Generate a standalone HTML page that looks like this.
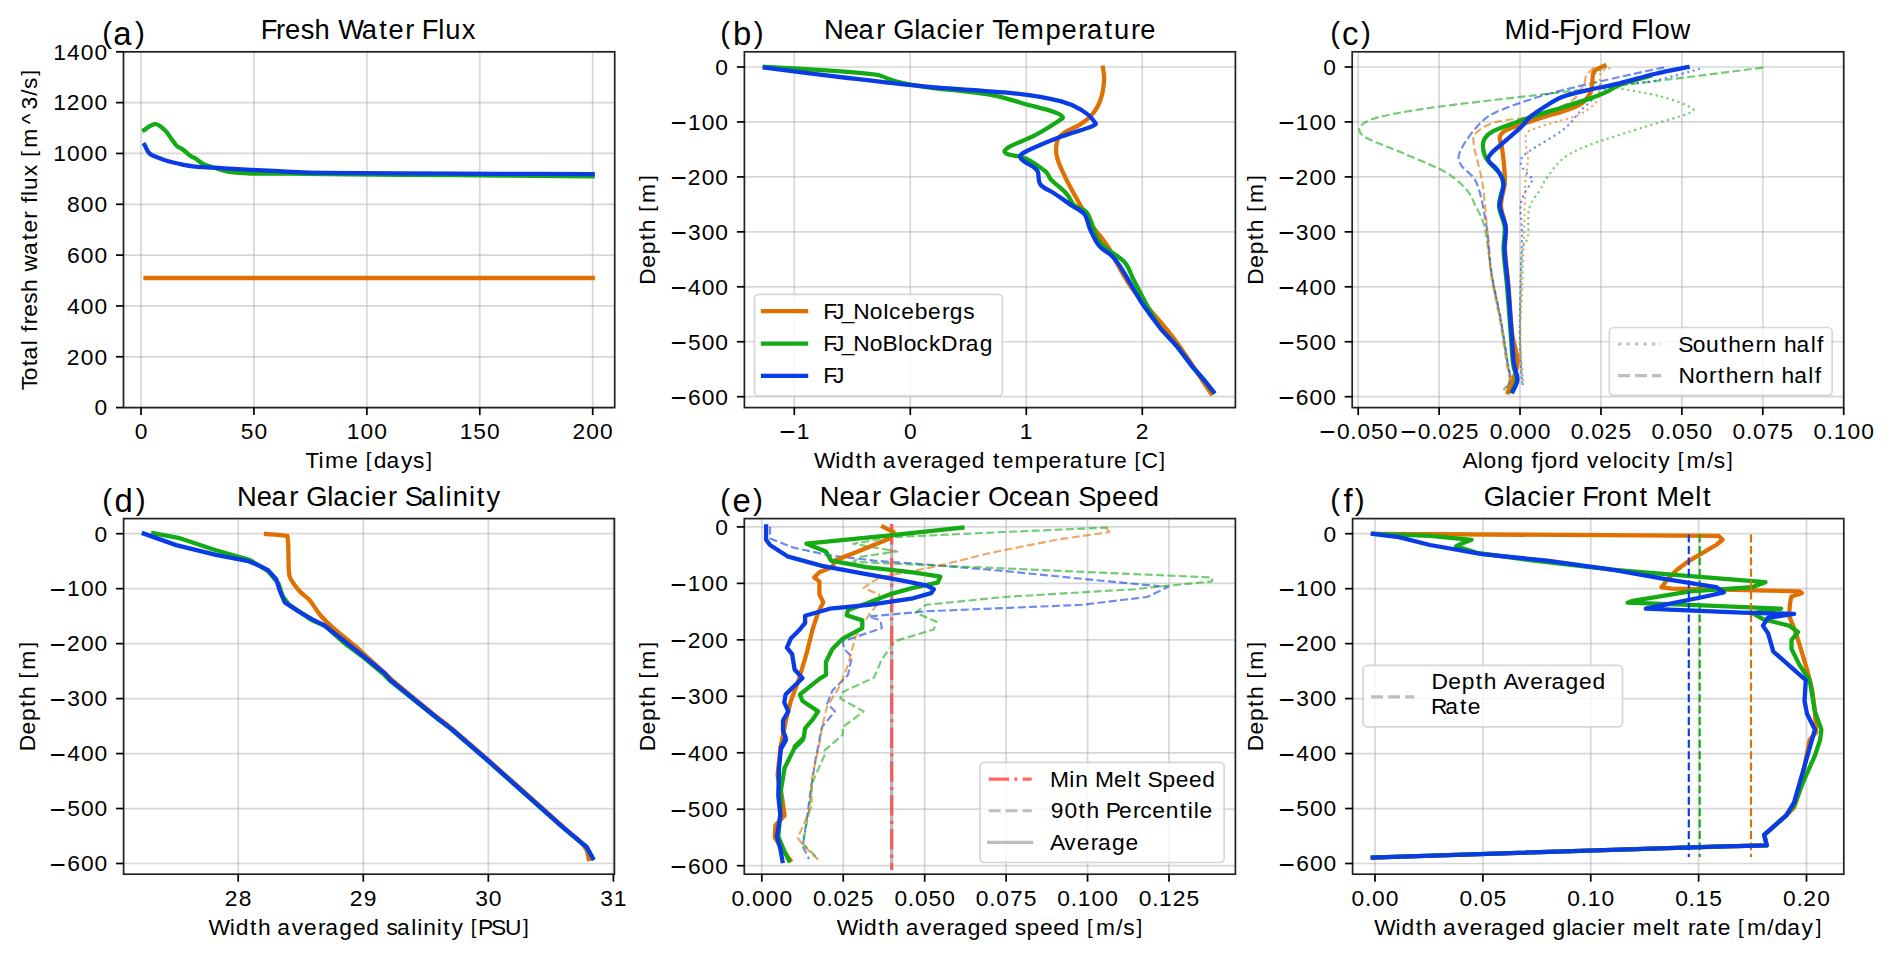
<!DOCTYPE html><html><head><meta charset="utf-8"><style>html,body{margin:0;padding:0;background:#fff;overflow:hidden}svg{display:block}text{font-family:"Liberation Sans",sans-serif}</style></head><body>
<svg width="1892" height="958" viewBox="0 0 1892 958">
<rect width="1892" height="958" fill="#fff"/>
<g>
<line x1="141.00" y1="51.80" x2="141.00" y2="407.60" stroke="#b0b0b0" stroke-opacity="0.5" stroke-width="1.72"/>
<line x1="253.93" y1="51.80" x2="253.93" y2="407.60" stroke="#b0b0b0" stroke-opacity="0.5" stroke-width="1.72"/>
<line x1="366.85" y1="51.80" x2="366.85" y2="407.60" stroke="#b0b0b0" stroke-opacity="0.5" stroke-width="1.72"/>
<line x1="479.78" y1="51.80" x2="479.78" y2="407.60" stroke="#b0b0b0" stroke-opacity="0.5" stroke-width="1.72"/>
<line x1="592.70" y1="51.80" x2="592.70" y2="407.60" stroke="#b0b0b0" stroke-opacity="0.5" stroke-width="1.72"/>
<line x1="123.50" y1="407.60" x2="614.70" y2="407.60" stroke="#b0b0b0" stroke-opacity="0.5" stroke-width="1.72"/>
<line x1="123.50" y1="356.77" x2="614.70" y2="356.77" stroke="#b0b0b0" stroke-opacity="0.5" stroke-width="1.72"/>
<line x1="123.50" y1="305.94" x2="614.70" y2="305.94" stroke="#b0b0b0" stroke-opacity="0.5" stroke-width="1.72"/>
<line x1="123.50" y1="255.11" x2="614.70" y2="255.11" stroke="#b0b0b0" stroke-opacity="0.5" stroke-width="1.72"/>
<line x1="123.50" y1="204.29" x2="614.70" y2="204.29" stroke="#b0b0b0" stroke-opacity="0.5" stroke-width="1.72"/>
<line x1="123.50" y1="153.46" x2="614.70" y2="153.46" stroke="#b0b0b0" stroke-opacity="0.5" stroke-width="1.72"/>
<line x1="123.50" y1="102.63" x2="614.70" y2="102.63" stroke="#b0b0b0" stroke-opacity="0.5" stroke-width="1.72"/>
<line x1="123.50" y1="51.80" x2="614.70" y2="51.80" stroke="#b0b0b0" stroke-opacity="0.5" stroke-width="1.72"/>
</g>
<g>
<line x1="794.30" y1="51.80" x2="794.30" y2="407.60" stroke="#b0b0b0" stroke-opacity="0.5" stroke-width="1.72"/>
<line x1="910.30" y1="51.80" x2="910.30" y2="407.60" stroke="#b0b0b0" stroke-opacity="0.5" stroke-width="1.72"/>
<line x1="1026.30" y1="51.80" x2="1026.30" y2="407.60" stroke="#b0b0b0" stroke-opacity="0.5" stroke-width="1.72"/>
<line x1="1142.30" y1="51.80" x2="1142.30" y2="407.60" stroke="#b0b0b0" stroke-opacity="0.5" stroke-width="1.72"/>
<line x1="744.40" y1="67.00" x2="1235.40" y2="67.00" stroke="#b0b0b0" stroke-opacity="0.5" stroke-width="1.72"/>
<line x1="744.40" y1="121.95" x2="1235.40" y2="121.95" stroke="#b0b0b0" stroke-opacity="0.5" stroke-width="1.72"/>
<line x1="744.40" y1="176.90" x2="1235.40" y2="176.90" stroke="#b0b0b0" stroke-opacity="0.5" stroke-width="1.72"/>
<line x1="744.40" y1="231.85" x2="1235.40" y2="231.85" stroke="#b0b0b0" stroke-opacity="0.5" stroke-width="1.72"/>
<line x1="744.40" y1="286.80" x2="1235.40" y2="286.80" stroke="#b0b0b0" stroke-opacity="0.5" stroke-width="1.72"/>
<line x1="744.40" y1="341.75" x2="1235.40" y2="341.75" stroke="#b0b0b0" stroke-opacity="0.5" stroke-width="1.72"/>
<line x1="744.40" y1="396.70" x2="1235.40" y2="396.70" stroke="#b0b0b0" stroke-opacity="0.5" stroke-width="1.72"/>
</g>
<g>
<line x1="1358.20" y1="51.80" x2="1358.20" y2="407.60" stroke="#b0b0b0" stroke-opacity="0.5" stroke-width="1.72"/>
<line x1="1439.12" y1="51.80" x2="1439.12" y2="407.60" stroke="#b0b0b0" stroke-opacity="0.5" stroke-width="1.72"/>
<line x1="1520.03" y1="51.80" x2="1520.03" y2="407.60" stroke="#b0b0b0" stroke-opacity="0.5" stroke-width="1.72"/>
<line x1="1600.95" y1="51.80" x2="1600.95" y2="407.60" stroke="#b0b0b0" stroke-opacity="0.5" stroke-width="1.72"/>
<line x1="1681.87" y1="51.80" x2="1681.87" y2="407.60" stroke="#b0b0b0" stroke-opacity="0.5" stroke-width="1.72"/>
<line x1="1762.78" y1="51.80" x2="1762.78" y2="407.60" stroke="#b0b0b0" stroke-opacity="0.5" stroke-width="1.72"/>
<line x1="1843.70" y1="51.80" x2="1843.70" y2="407.60" stroke="#b0b0b0" stroke-opacity="0.5" stroke-width="1.72"/>
<line x1="1352.20" y1="67.00" x2="1843.70" y2="67.00" stroke="#b0b0b0" stroke-opacity="0.5" stroke-width="1.72"/>
<line x1="1352.20" y1="121.95" x2="1843.70" y2="121.95" stroke="#b0b0b0" stroke-opacity="0.5" stroke-width="1.72"/>
<line x1="1352.20" y1="176.90" x2="1843.70" y2="176.90" stroke="#b0b0b0" stroke-opacity="0.5" stroke-width="1.72"/>
<line x1="1352.20" y1="231.85" x2="1843.70" y2="231.85" stroke="#b0b0b0" stroke-opacity="0.5" stroke-width="1.72"/>
<line x1="1352.20" y1="286.80" x2="1843.70" y2="286.80" stroke="#b0b0b0" stroke-opacity="0.5" stroke-width="1.72"/>
<line x1="1352.20" y1="341.75" x2="1843.70" y2="341.75" stroke="#b0b0b0" stroke-opacity="0.5" stroke-width="1.72"/>
<line x1="1352.20" y1="396.70" x2="1843.70" y2="396.70" stroke="#b0b0b0" stroke-opacity="0.5" stroke-width="1.72"/>
</g>
<g>
<line x1="238.20" y1="518.60" x2="238.20" y2="874.20" stroke="#b0b0b0" stroke-opacity="0.5" stroke-width="1.72"/>
<line x1="363.27" y1="518.60" x2="363.27" y2="874.20" stroke="#b0b0b0" stroke-opacity="0.5" stroke-width="1.72"/>
<line x1="488.33" y1="518.60" x2="488.33" y2="874.20" stroke="#b0b0b0" stroke-opacity="0.5" stroke-width="1.72"/>
<line x1="613.40" y1="518.60" x2="613.40" y2="874.20" stroke="#b0b0b0" stroke-opacity="0.5" stroke-width="1.72"/>
<line x1="123.60" y1="533.70" x2="614.40" y2="533.70" stroke="#b0b0b0" stroke-opacity="0.5" stroke-width="1.72"/>
<line x1="123.60" y1="588.67" x2="614.40" y2="588.67" stroke="#b0b0b0" stroke-opacity="0.5" stroke-width="1.72"/>
<line x1="123.60" y1="643.63" x2="614.40" y2="643.63" stroke="#b0b0b0" stroke-opacity="0.5" stroke-width="1.72"/>
<line x1="123.60" y1="698.60" x2="614.40" y2="698.60" stroke="#b0b0b0" stroke-opacity="0.5" stroke-width="1.72"/>
<line x1="123.60" y1="753.57" x2="614.40" y2="753.57" stroke="#b0b0b0" stroke-opacity="0.5" stroke-width="1.72"/>
<line x1="123.60" y1="808.53" x2="614.40" y2="808.53" stroke="#b0b0b0" stroke-opacity="0.5" stroke-width="1.72"/>
<line x1="123.60" y1="863.50" x2="614.40" y2="863.50" stroke="#b0b0b0" stroke-opacity="0.5" stroke-width="1.72"/>
</g>
<g>
<line x1="761.80" y1="518.60" x2="761.80" y2="874.20" stroke="#b0b0b0" stroke-opacity="0.5" stroke-width="1.72"/>
<line x1="843.24" y1="518.60" x2="843.24" y2="874.20" stroke="#b0b0b0" stroke-opacity="0.5" stroke-width="1.72"/>
<line x1="924.68" y1="518.60" x2="924.68" y2="874.20" stroke="#b0b0b0" stroke-opacity="0.5" stroke-width="1.72"/>
<line x1="1006.12" y1="518.60" x2="1006.12" y2="874.20" stroke="#b0b0b0" stroke-opacity="0.5" stroke-width="1.72"/>
<line x1="1087.56" y1="518.60" x2="1087.56" y2="874.20" stroke="#b0b0b0" stroke-opacity="0.5" stroke-width="1.72"/>
<line x1="1169.00" y1="518.60" x2="1169.00" y2="874.20" stroke="#b0b0b0" stroke-opacity="0.5" stroke-width="1.72"/>
<line x1="744.30" y1="526.90" x2="1235.40" y2="526.90" stroke="#b0b0b0" stroke-opacity="0.5" stroke-width="1.72"/>
<line x1="744.30" y1="583.37" x2="1235.40" y2="583.37" stroke="#b0b0b0" stroke-opacity="0.5" stroke-width="1.72"/>
<line x1="744.30" y1="639.83" x2="1235.40" y2="639.83" stroke="#b0b0b0" stroke-opacity="0.5" stroke-width="1.72"/>
<line x1="744.30" y1="696.30" x2="1235.40" y2="696.30" stroke="#b0b0b0" stroke-opacity="0.5" stroke-width="1.72"/>
<line x1="744.30" y1="752.77" x2="1235.40" y2="752.77" stroke="#b0b0b0" stroke-opacity="0.5" stroke-width="1.72"/>
<line x1="744.30" y1="809.23" x2="1235.40" y2="809.23" stroke="#b0b0b0" stroke-opacity="0.5" stroke-width="1.72"/>
<line x1="744.30" y1="865.70" x2="1235.40" y2="865.70" stroke="#b0b0b0" stroke-opacity="0.5" stroke-width="1.72"/>
</g>
<g>
<line x1="1375.00" y1="518.60" x2="1375.00" y2="874.20" stroke="#b0b0b0" stroke-opacity="0.5" stroke-width="1.72"/>
<line x1="1482.88" y1="518.60" x2="1482.88" y2="874.20" stroke="#b0b0b0" stroke-opacity="0.5" stroke-width="1.72"/>
<line x1="1590.75" y1="518.60" x2="1590.75" y2="874.20" stroke="#b0b0b0" stroke-opacity="0.5" stroke-width="1.72"/>
<line x1="1698.62" y1="518.60" x2="1698.62" y2="874.20" stroke="#b0b0b0" stroke-opacity="0.5" stroke-width="1.72"/>
<line x1="1806.50" y1="518.60" x2="1806.50" y2="874.20" stroke="#b0b0b0" stroke-opacity="0.5" stroke-width="1.72"/>
<line x1="1352.60" y1="533.70" x2="1843.80" y2="533.70" stroke="#b0b0b0" stroke-opacity="0.5" stroke-width="1.72"/>
<line x1="1352.60" y1="588.67" x2="1843.80" y2="588.67" stroke="#b0b0b0" stroke-opacity="0.5" stroke-width="1.72"/>
<line x1="1352.60" y1="643.63" x2="1843.80" y2="643.63" stroke="#b0b0b0" stroke-opacity="0.5" stroke-width="1.72"/>
<line x1="1352.60" y1="698.60" x2="1843.80" y2="698.60" stroke="#b0b0b0" stroke-opacity="0.5" stroke-width="1.72"/>
<line x1="1352.60" y1="753.57" x2="1843.80" y2="753.57" stroke="#b0b0b0" stroke-opacity="0.5" stroke-width="1.72"/>
<line x1="1352.60" y1="808.53" x2="1843.80" y2="808.53" stroke="#b0b0b0" stroke-opacity="0.5" stroke-width="1.72"/>
<line x1="1352.60" y1="863.50" x2="1843.80" y2="863.50" stroke="#b0b0b0" stroke-opacity="0.5" stroke-width="1.72"/>
</g>
<clipPath id="cpa"><rect x="123.5" y="51.8" width="491.20000000000005" height="355.8"/></clipPath><g clip-path="url(#cpa)">
<polyline points="145.5,278.0 592.7,278.0" fill="none" stroke="#e07000" stroke-width="4.3" stroke-linecap="square" stroke-linejoin="round"/>
<path d="M144.1,130.1 C145.0,129.5 147.6,127.4 149.4,126.4 C151.2,125.4 152.9,124.2 154.7,124.1 C156.4,124.0 158.0,124.6 159.9,125.9 C161.8,127.2 164.4,129.5 166.3,131.7 C168.2,133.9 169.8,136.7 171.6,139.1 C173.4,141.5 175.0,144.2 176.9,146.0 C178.8,147.8 180.9,148.0 183.2,149.7 C185.5,151.4 188.5,154.5 190.6,156.0 C192.7,157.5 194.0,157.5 195.9,158.7 C197.8,159.9 199.2,161.9 202.2,163.4 C205.2,164.9 209.3,166.3 213.9,167.7 C218.5,169.1 223.5,170.9 229.7,171.9 C235.8,172.9 242.0,173.2 250.8,173.5 C259.6,173.8 270.4,173.5 282.6,173.6 C294.8,173.7 304.4,174.0 324.0,174.2 C343.6,174.4 370.7,174.6 400.0,174.8 C429.3,175.0 467.9,175.2 500.0,175.5 C532.1,175.8 577.2,176.2 592.7,176.3" fill="none" stroke="#14aa14" stroke-width="4.3" stroke-linecap="square" stroke-linejoin="round"/>
<path d="M144.6,144.9 C145.4,146.3 147.2,151.3 149.4,153.4 C151.6,155.5 154.6,156.3 157.8,157.6 C161.0,158.9 164.7,160.2 168.4,161.3 C172.1,162.4 175.4,163.1 180.0,164.0 C184.6,164.9 190.2,166.0 195.9,166.6 C201.6,167.2 208.3,167.3 213.9,167.7 C219.5,168.0 223.5,168.3 229.7,168.7 C235.8,169.0 242.0,169.4 250.8,169.8 C259.6,170.2 270.4,170.9 282.6,171.4 C294.8,171.9 304.4,172.6 324.0,172.9 C343.6,173.2 370.7,173.2 400.0,173.4 C429.3,173.6 467.9,173.7 500.0,173.8 C532.1,173.9 577.2,174.1 592.7,174.1" fill="none" stroke="#0a3ce6" stroke-width="4.3" stroke-linecap="square" stroke-linejoin="round"/>
</g>
<clipPath id="cpb"><rect x="744.4" y="51.8" width="491.0000000000001" height="355.8"/></clipPath><g clip-path="url(#cpb)">
<path d="M1102.9,67.6 C1103.1,69.3 1104.2,73.7 1104.2,78.0 C1104.1,82.3 1103.4,88.8 1102.3,93.6 C1101.3,98.4 1099.7,102.7 1097.7,106.6 C1095.6,110.5 1092.9,114.0 1089.9,117.0 C1086.8,120.0 1083.4,122.4 1079.5,124.8 C1075.6,127.2 1069.9,129.1 1066.5,131.3 C1063.0,133.5 1060.4,135.0 1058.7,137.8 C1056.9,140.6 1056.3,144.7 1056.1,148.2 C1055.8,151.7 1056.3,154.7 1057.4,158.6 C1058.4,162.5 1060.2,166.4 1062.6,171.6 C1064.9,176.8 1068.4,183.8 1071.7,189.8 C1074.9,195.9 1078.6,202.0 1082.1,208.0 C1085.5,214.1 1088.1,219.7 1092.5,226.2 C1096.8,232.7 1101.5,236.8 1108.1,247.0 C1114.6,257.3 1121.0,272.9 1131.8,287.9 C1142.6,303.0 1159.8,319.8 1173.0,337.4 C1186.2,355.0 1204.6,384.1 1210.9,393.4" fill="none" stroke="#e07000" stroke-width="4.3" stroke-linecap="square" stroke-linejoin="round"/>
<path d="M764.8,66.8 C774.3,67.4 804.2,69.0 822.0,70.2 C839.8,71.4 861.5,73.1 871.4,74.1 C881.4,75.1 878.8,75.3 881.8,76.2 C884.9,77.1 886.6,78.3 889.6,79.3 C892.7,80.3 894.0,81.1 900.0,82.4 C906.1,83.7 910.9,85.0 926.0,87.1 C941.2,89.2 974.6,92.1 991.0,94.9 C1007.5,97.7 1014.4,101.2 1024.8,104.0 C1035.2,106.8 1047.2,109.6 1053.5,111.8 C1059.7,114.0 1061.7,115.5 1062.6,117.0 C1063.4,118.5 1063.2,117.9 1058.7,120.9 C1054.1,123.9 1043.5,130.9 1035.2,135.2 C1027.0,139.5 1014.1,143.9 1009.2,146.9 C1004.4,149.9 1003.3,151.5 1006.1,153.4 C1008.9,155.4 1019.6,155.6 1026.1,158.6 C1032.7,161.7 1041.5,168.2 1045.7,171.6 C1049.8,175.1 1047.4,175.7 1050.9,179.4 C1054.3,183.1 1062.6,189.4 1066.5,193.7 C1070.4,198.1 1070.8,202.2 1074.3,205.4 C1077.7,208.7 1083.4,207.6 1087.3,213.2 C1091.2,218.9 1094.2,233.2 1097.7,239.2 C1101.1,245.3 1103.5,245.7 1108.1,249.6 C1112.6,253.5 1120.6,257.4 1125.0,262.6 C1129.3,267.8 1130.2,273.3 1134.1,280.8 C1138.0,288.4 1144.0,299.9 1148.3,307.7 C1152.6,315.5 1155.2,321.2 1159.8,327.5 C1164.5,333.8 1170.8,339.0 1176.3,345.6 C1181.8,352.2 1188.1,361.3 1192.8,367.1 C1197.5,372.8 1200.9,376.1 1204.3,380.3 C1207.8,384.4 1211.9,389.9 1213.4,391.8" fill="none" stroke="#14aa14" stroke-width="4.3" stroke-linecap="square" stroke-linejoin="round"/>
<path d="M764.8,67.6 C778.7,69.3 821.1,74.8 848.0,78.0 C874.9,81.2 897.9,84.0 926.0,86.6 C954.2,89.2 994.5,91.1 1017.0,93.6 C1039.6,96.1 1050.4,98.6 1061.3,101.4 C1072.1,104.2 1076.6,107.3 1082.1,110.5 C1087.5,113.8 1092.0,118.3 1093.8,120.9 C1095.5,123.5 1097.9,123.5 1092.5,126.1 C1087.0,128.7 1071.2,132.8 1061.3,136.5 C1051.3,140.2 1039.4,145.2 1032.6,148.2 C1025.9,151.3 1022.7,152.8 1020.9,154.7 C1019.2,156.7 1020.3,158.0 1022.2,159.9 C1024.2,161.9 1030.0,164.5 1032.6,166.4 C1035.2,168.4 1036.5,168.6 1037.8,171.6 C1039.2,174.7 1037.6,180.9 1040.5,184.6 C1043.3,188.3 1049.6,190.3 1054.8,193.7 C1060.0,197.2 1066.7,202.0 1071.7,205.4 C1076.6,208.9 1081.6,210.6 1084.7,214.5 C1087.7,218.4 1087.5,223.6 1089.9,228.8 C1092.2,234.0 1095.5,241.4 1099.0,245.7 C1102.4,250.1 1107.4,251.8 1110.7,254.8 C1113.9,257.9 1115.4,259.6 1118.5,263.9 C1121.5,268.3 1125.0,274.4 1128.9,280.8 C1132.7,287.3 1136.5,295.0 1141.7,302.8 C1146.9,310.5 1154.1,320.3 1159.8,327.5 C1165.6,334.6 1170.8,339.0 1176.3,345.6 C1181.8,352.2 1188.1,361.3 1192.8,367.1 C1197.5,372.8 1200.9,376.1 1204.3,380.3 C1207.8,384.4 1211.9,389.9 1213.4,391.8" fill="none" stroke="#0a3ce6" stroke-width="4.3" stroke-linecap="square" stroke-linejoin="round"/>
</g>
<clipPath id="cpc"><rect x="1352.2" y="51.8" width="491.5" height="355.8"/></clipPath><g clip-path="url(#cpc)">
<path d="M1762.9,67.6 C1752.4,68.9 1720.8,73.0 1700.0,75.6 C1679.2,78.2 1663.0,80.2 1638.0,83.2 C1613.0,86.2 1582.9,89.6 1549.9,93.5 C1516.9,97.4 1466.5,103.0 1440.0,106.5 C1413.5,110.0 1402.7,112.2 1391.0,114.4 C1379.3,116.7 1375.2,117.8 1370.0,120.0 C1364.8,122.2 1361.1,124.9 1359.8,127.4 C1358.5,129.9 1359.9,132.8 1362.4,135.2 C1364.9,137.6 1370.2,139.8 1375.0,142.0 C1379.8,144.2 1380.2,143.7 1391.0,148.2 C1401.8,152.7 1428.7,163.7 1439.6,169.0 C1450.5,174.3 1451.6,176.2 1456.4,180.0 C1461.2,183.8 1465.1,187.5 1468.2,191.7 C1471.3,195.9 1472.3,199.1 1475.0,205.0 C1477.7,210.9 1481.8,215.5 1484.6,227.0 C1487.4,238.5 1488.9,258.3 1491.6,273.9 C1494.3,289.5 1498.3,305.6 1501.0,320.8 C1503.7,336.1 1506.4,355.6 1508.0,365.4 C1509.6,375.2 1511.2,375.4 1510.4,379.5 C1509.6,383.6 1504.6,388.3 1503.4,390.1" fill="none" stroke="#14aa14" stroke-width="2.15" stroke-linecap="butt" stroke-linejoin="round" stroke-dasharray="7.96 3.44" stroke-opacity="0.6"/>
<path d="M1664.0,67.4 C1658.7,68.5 1646.8,71.0 1632.4,74.2 C1618.0,77.4 1593.4,82.7 1577.4,86.6 C1561.4,90.5 1549.9,93.2 1536.2,97.6 C1522.5,101.9 1504.6,108.1 1495.0,112.7 C1485.4,117.3 1483.5,120.0 1478.5,125.1 C1473.5,130.2 1468.0,137.7 1464.7,143.0 C1461.4,148.3 1459.0,152.8 1458.6,156.7 C1458.1,160.6 1458.9,161.7 1462.0,166.3 C1465.1,170.9 1472.9,173.7 1477.1,184.2 C1481.3,194.7 1484.6,214.4 1487.0,229.3 C1489.4,244.2 1489.3,258.6 1491.6,273.9 C1493.9,289.1 1498.3,305.6 1501.0,320.8 C1503.7,336.1 1506.4,355.6 1508.0,365.4 C1509.6,375.2 1510.9,375.2 1510.4,379.5 C1509.9,383.8 1505.9,389.1 1505.0,391.0" fill="none" stroke="#0a3ce6" stroke-width="2.15" stroke-linecap="butt" stroke-linejoin="round" stroke-dasharray="7.96 3.44" stroke-opacity="0.6"/>
<path d="M1593.9,67.4 C1592.7,68.8 1588.2,72.4 1586.4,75.6 C1584.6,78.8 1585.6,82.2 1582.9,86.6 C1580.2,90.9 1578.3,96.9 1570.5,101.7 C1562.7,106.5 1548.8,112.1 1536.2,115.5 C1523.6,118.9 1505.1,119.3 1495.0,122.3 C1484.9,125.3 1479.2,129.6 1475.7,133.3 C1472.2,137.0 1473.5,140.0 1473.7,144.3 C1473.9,148.7 1475.6,152.8 1477.1,159.4 C1478.6,166.1 1480.9,172.9 1482.6,184.2 C1484.2,195.5 1485.6,212.1 1487.0,227.0 C1488.4,241.9 1488.8,258.3 1491.0,273.9 C1493.2,289.5 1497.3,305.6 1500.0,320.8 C1502.7,336.1 1505.4,355.6 1507.0,365.4 C1508.6,375.2 1509.5,375.2 1509.5,379.5 C1509.5,383.8 1507.3,389.3 1506.9,391.3" fill="none" stroke="#e07000" stroke-width="2.15" stroke-linecap="butt" stroke-linejoin="round" stroke-dasharray="7.96 3.44" stroke-opacity="0.6"/>
<path d="M1606.3,67.4 C1604.4,68.5 1597.0,71.6 1595.0,74.0 C1593.0,76.4 1590.1,79.7 1594.0,82.0 C1597.9,84.3 1607.6,85.6 1618.6,88.0 C1629.6,90.4 1648.4,93.2 1659.9,96.2 C1671.4,99.2 1682.4,103.0 1687.4,105.8 C1692.4,108.5 1697.0,109.2 1690.1,112.7 C1683.2,116.2 1662.6,121.2 1646.1,126.5 C1629.6,131.8 1604.9,139.0 1591.2,144.3 C1577.5,149.6 1571.0,152.6 1563.7,158.1 C1556.4,163.6 1551.2,172.0 1547.2,177.3 C1543.2,182.6 1543.0,184.8 1540.0,190.0 C1537.0,195.2 1531.2,200.5 1529.2,208.2 C1527.2,215.9 1529.2,229.3 1528.0,236.3 C1526.8,243.3 1523.4,242.2 1522.2,250.4 C1521.0,258.6 1521.4,271.9 1521.0,285.6 C1520.6,299.3 1519.8,318.9 1519.8,332.6 C1519.8,346.3 1520.6,358.8 1521.0,367.8 C1521.4,376.8 1522.0,383.5 1522.2,386.6" fill="none" stroke="#14aa14" stroke-width="2.15" stroke-linecap="butt" stroke-linejoin="round" stroke-dasharray="2.15 3.55" stroke-opacity="0.6"/>
<path d="M1700.0,68.7 C1692.2,70.8 1667.7,78.1 1653.0,81.1 C1638.3,84.1 1623.2,82.2 1611.8,86.6 C1600.3,90.9 1592.3,100.1 1584.3,107.2 C1576.3,114.3 1572.9,121.9 1563.7,129.2 C1554.5,136.5 1536.4,146.2 1529.3,151.2 C1522.2,156.2 1522.2,156.7 1521.1,159.4 C1520.0,162.2 1520.7,164.5 1522.5,167.7 C1524.3,170.9 1530.6,176.3 1532.1,178.7 C1533.6,181.1 1533.2,178.0 1531.4,182.0 C1529.6,186.0 1522.6,194.1 1521.0,202.8 C1519.4,211.5 1522.1,220.2 1522.0,234.0 C1521.9,247.8 1520.9,269.2 1520.5,285.6 C1520.1,302.0 1519.7,318.9 1519.8,332.6 C1519.9,346.3 1520.5,358.6 1521.0,367.8 C1521.5,377.0 1522.7,384.6 1523.0,388.0" fill="none" stroke="#0a3ce6" stroke-width="2.15" stroke-linecap="butt" stroke-linejoin="round" stroke-dasharray="2.15 3.55" stroke-opacity="0.6"/>
<path d="M1610.4,68.1 C1608.8,68.9 1602.6,69.4 1600.8,72.9 C1599.0,76.5 1600.3,84.4 1599.4,89.4 C1598.5,94.4 1599.0,98.8 1595.3,103.1 C1591.6,107.4 1585.0,112.1 1577.4,115.5 C1569.8,118.9 1558.1,121.0 1549.9,123.7 C1541.7,126.5 1532.0,128.6 1528.0,132.0 C1524.0,135.4 1525.9,140.0 1525.9,144.3 C1525.9,148.7 1528.1,151.4 1528.0,158.1 C1527.9,164.8 1525.8,174.7 1525.2,184.2 C1524.6,193.7 1525.0,198.1 1524.5,215.0 C1524.0,231.9 1523.0,266.0 1522.3,285.6 C1521.6,305.2 1520.5,318.9 1520.5,332.6 C1520.5,346.3 1521.4,359.1 1522.0,367.8 C1522.6,376.5 1523.7,382.1 1524.0,385.0" fill="none" stroke="#e07000" stroke-width="2.15" stroke-linecap="butt" stroke-linejoin="round" stroke-dasharray="2.15 3.55" stroke-opacity="0.6"/>
<path d="M1604.4,65.8 C1602.7,66.8 1596.0,68.7 1594.0,71.6 C1592.0,74.5 1592.8,79.8 1592.2,83.3 C1591.6,86.8 1592.2,89.3 1590.5,92.6 C1588.8,95.9 1586.2,100.1 1582.3,103.0 C1578.4,105.9 1573.6,107.7 1567.2,110.0 C1560.8,112.3 1550.8,114.9 1544.0,117.0 C1537.2,119.1 1532.7,120.7 1526.5,122.8 C1520.3,124.9 1511.2,127.5 1506.7,129.8 C1502.2,132.1 1500.6,133.6 1499.8,136.7 C1499.0,139.8 1501.3,142.8 1502.1,148.4 C1502.9,154.0 1504.0,164.0 1504.4,170.0 C1504.8,176.0 1505.2,178.2 1504.6,184.2 C1504.0,190.2 1500.8,198.7 1501.0,205.8 C1501.2,212.9 1505.0,219.6 1505.7,227.0 C1506.4,234.4 1504.5,240.6 1505.0,250.4 C1505.5,260.2 1507.3,271.9 1508.5,285.6 C1509.7,299.3 1510.5,319.7 1512.0,332.6 C1513.5,345.5 1518.2,353.1 1517.5,363.1 C1516.8,373.1 1509.6,387.5 1508.0,392.4" fill="none" stroke="#e07000" stroke-width="4.3" stroke-linecap="square" stroke-linejoin="round"/>
<path d="M1650.0,76.0 C1644.9,77.5 1626.5,82.4 1619.5,85.0 C1612.5,87.6 1612.7,89.2 1607.9,91.4 C1603.1,93.6 1598.2,95.7 1590.5,98.4 C1582.8,101.1 1570.1,105.0 1561.4,107.7 C1552.7,110.4 1545.8,112.2 1538.1,114.7 C1530.3,117.2 1522.7,119.9 1514.9,122.8 C1507.2,125.7 1496.8,129.0 1491.6,132.1 C1486.4,135.2 1484.7,137.5 1483.5,141.4 C1482.3,145.3 1483.4,151.4 1484.7,155.3 C1486.0,159.2 1489.0,161.5 1491.6,164.7 C1494.2,167.9 1498.5,171.3 1500.5,174.6 C1502.5,177.8 1503.8,179.0 1503.5,184.2 C1503.2,189.4 1498.8,198.7 1499.0,205.8 C1499.2,212.9 1503.9,219.6 1504.7,227.0 C1505.5,234.4 1503.2,240.6 1503.6,250.4 C1504.0,260.2 1505.8,271.9 1507.0,285.6 C1508.2,299.3 1509.6,319.7 1510.6,332.6 C1511.6,345.5 1512.0,355.3 1513.0,363.1 C1514.0,370.9 1516.7,374.8 1516.5,379.5 C1516.3,384.2 1512.6,389.3 1511.8,391.3" fill="none" stroke="#14aa14" stroke-width="4.3" stroke-linecap="square" stroke-linejoin="round"/>
<path d="M1687.6,67.2 C1682.1,68.3 1665.8,71.3 1654.4,74.0 C1643.1,76.7 1631.1,80.5 1619.5,83.3 C1607.9,86.1 1594.4,88.5 1584.7,90.8 C1575.0,93.1 1568.0,94.6 1561.4,97.2 C1554.8,99.8 1550.3,103.2 1545.1,106.5 C1539.9,109.8 1534.1,113.5 1530.0,117.0 C1525.9,120.5 1525.2,123.1 1520.7,127.4 C1516.2,131.7 1508.3,138.1 1503.3,142.6 C1498.3,147.1 1492.9,151.1 1490.5,154.2 C1488.1,157.3 1487.5,158.6 1488.7,161.2 C1489.9,163.8 1495.0,166.2 1497.4,170.0 C1499.9,173.8 1503.0,178.0 1503.4,184.0 C1503.8,190.0 1499.5,198.6 1499.9,205.8 C1500.3,213.0 1504.9,219.6 1505.7,227.0 C1506.5,234.4 1504.2,240.6 1504.6,250.4 C1505.0,260.2 1506.8,271.9 1508.0,285.6 C1509.2,299.3 1510.6,319.7 1511.6,332.6 C1512.6,345.5 1512.9,355.3 1513.9,363.1 C1514.9,370.9 1517.7,374.8 1517.5,379.5 C1517.3,384.2 1513.6,389.3 1512.8,391.3" fill="none" stroke="#0a3ce6" stroke-width="4.3" stroke-linecap="square" stroke-linejoin="round"/>
</g>
<clipPath id="cpd"><rect x="123.6" y="518.6" width="490.79999999999995" height="355.6"/></clipPath><g clip-path="url(#cpd)">
<path d="M266.0,534.0 C269.1,534.3 281.1,534.7 284.8,535.7 C288.4,536.7 287.2,534.0 287.9,539.9 C288.6,545.8 288.4,564.6 288.9,571.2 C289.4,577.8 289.3,576.2 291.0,579.5 C292.8,582.8 296.2,587.5 299.4,591.0 C302.5,594.5 306.3,596.4 309.8,600.4 C313.3,604.4 316.4,610.5 320.2,615.0 C324.1,619.6 326.5,622.0 332.8,627.6 C339.0,633.1 347.9,639.7 357.8,648.4 C367.7,657.2 378.8,668.3 392.3,680.0 C405.9,691.7 429.1,710.5 438.9,718.5 C448.7,726.4 442.8,720.8 451.0,727.8 C459.3,734.7 469.9,743.8 488.5,760.2 C507.0,776.5 546.4,811.5 562.4,826.0 C578.4,840.4 580.3,841.1 584.6,846.6 C589.0,852.1 588.0,857.1 588.7,859.1" fill="none" stroke="#e07000" stroke-width="4.3" stroke-linecap="square" stroke-linejoin="round"/>
<polyline points="153.2,533.2 178.3,537.8 215.9,550.3 249.3,559.7 268.1,571.2 278.5,583.7 282.7,596.2 288.9,604.6 311.9,620.3 324.4,625.5 343.2,642.2 364.1,657.8 382.9,673.5 389.3,680.0 438.9,719.9 451.0,729.0 488.5,761.4 562.4,827.2 586.7,847.4 592.7,858.1" fill="none" stroke="#14aa14" stroke-width="4.3" stroke-linecap="square" stroke-linejoin="round"/>
<polyline points="143.8,533.6 176.2,545.1 215.9,554.9 247.2,560.8 257.6,564.9 268.1,570.1 276.4,579.5 279.5,590.0 284.8,602.5 299.4,611.9 311.9,619.2 324.4,625.5 343.2,640.1 364.1,656.8 385.0,673.5 390.3,680.0 438.9,719.5 451.0,728.6 488.5,761.0 562.4,826.8 586.7,847.0 592.7,858.1" fill="none" stroke="#0a3ce6" stroke-width="4.3" stroke-linecap="square" stroke-linejoin="round"/>
</g>
<clipPath id="cpe"><rect x="744.3" y="518.6" width="491.10000000000014" height="355.6"/></clipPath><g clip-path="url(#cpe)">
<polyline points="770.0,526.8 770.0,538.5 793.4,547.6 829.8,555.4 874.0,560.6 926.0,564.5 1004.0,571.0 1082.1,578.8 1167.9,587.1 1147.1,597.0 1082.1,604.8 926.0,611.3 868.8,616.5 880.5,620.4 881.8,628.2 858.4,636.0 842.8,641.2 844.1,649.0 851.9,656.8 848.0,675.0 832.4,690.6 827.2,703.6 835.0,711.4 822.0,727.0 819.4,740.0 815.3,761.0 811.1,787.6 806.9,818.3 802.7,846.3 809.0,858.9" fill="none" stroke="#0a3ce6" stroke-width="2.15" stroke-linecap="butt" stroke-linejoin="round" stroke-dasharray="7.96 3.44" stroke-opacity="0.6"/>
<polyline points="1108.1,527.6 1004.0,532.0 892.2,537.2 853.2,543.7 897.4,551.5 861.0,556.7 853.2,561.9 1004.0,568.4 1212.1,577.5 1212.1,581.4 1134.1,589.2 1004.0,597.0 926.0,604.8 915.6,612.6 936.4,621.7 933.8,629.5 894.8,641.2 881.8,659.4 874.0,677.6 842.8,691.9 840.2,698.4 863.6,711.4 842.8,727.0 842.8,734.8 824.6,750.4 825.1,754.0 812.5,782.0 808.3,815.5 802.7,843.5 818.1,858.9" fill="none" stroke="#14aa14" stroke-width="2.15" stroke-linecap="butt" stroke-linejoin="round" stroke-dasharray="7.96 3.44" stroke-opacity="0.6"/>
<polyline points="1106.8,528.9 1109.4,532.0 1056.1,539.8 991.0,552.8 939.0,565.8 913.0,571.0 879.2,577.5 871.4,582.7 863.6,587.9 879.2,594.4 879.2,602.2 868.8,615.2 855.8,636.0 848.0,664.6 840.2,685.4 827.2,706.2 822.0,727.0 820.2,740.0 811.1,782.0 811.8,805.7 802.7,826.7 797.8,837.9 802.7,844.9 818.1,859.6" fill="none" stroke="#e07000" stroke-width="2.15" stroke-linecap="butt" stroke-linejoin="round" stroke-dasharray="7.96 3.44" stroke-opacity="0.6"/>
<line x1="891.7" y1="524" x2="891.7" y2="870" stroke="#b8b8b8" stroke-width="3.2"/>
<line x1="891.7" y1="524" x2="891.7" y2="870" stroke="#ff4040" stroke-opacity="0.75" stroke-width="3.2" stroke-dasharray="20.5 5.1 3.2 5.1"/>
<polyline points="883.1,526.8 893.5,532.0 889.6,538.5 861.0,550.2 835.0,560.6 832.4,567.1 819.4,572.3 814.2,577.5 819.4,581.4 819.4,586.6 819.4,594.4 823.3,602.2 818.1,612.6 812.9,628.2 806.4,654.2 798.6,680.2 790.8,701.0 785.6,721.8 780.4,747.8 777.6,775.0 781.8,795.9 784.6,815.5 775.5,825.3 774.8,837.9 790.2,860.3" fill="none" stroke="#e07000" stroke-width="4.3" stroke-linecap="square" stroke-linejoin="round"/>
<polyline points="962.4,527.6 892.2,535.1 806.4,543.7 825.9,551.5 831.1,560.6 866.2,567.1 913.0,572.3 940.3,576.7 937.7,582.7 913.0,587.9 889.6,594.4 866.2,603.5 848.0,610.0 846.7,615.2 862.3,620.4 862.3,628.2 842.8,638.6 832.4,649.0 825.9,662.0 825.9,675.0 819.4,678.9 799.9,694.5 802.5,701.0 818.1,711.4 812.9,719.2 805.1,728.3 803.8,737.4 794.7,746.5 802.7,740.0 794.3,748.4 784.6,768.0 781.1,789.0 780.1,815.5 778.3,836.5 784.6,851.9 788.8,860.3" fill="none" stroke="#14aa14" stroke-width="4.3" stroke-linecap="square" stroke-linejoin="round"/>
<polyline points="766.1,526.3 766.1,539.8 770.0,545.0 788.2,556.7 822.0,565.8 863.6,573.6 900.0,580.1 926.0,585.3 933.8,589.2 931.2,593.1 913.0,598.3 868.8,604.8 829.8,608.7 805.1,615.7 805.1,623.0 798.6,630.8 790.8,638.6 786.9,647.7 792.1,654.2 794.7,669.8 802.5,678.1 793.4,686.7 785.6,694.5 784.3,702.3 788.2,711.4 783.0,720.5 783.0,730.9 785.6,737.4 781.7,747.8 786.0,740.0 781.1,747.0 779.0,768.0 778.3,795.9 780.4,815.5 776.9,836.5 780.4,849.1 782.5,861.0" fill="none" stroke="#0a3ce6" stroke-width="4.3" stroke-linecap="square" stroke-linejoin="round"/>
</g>
<clipPath id="cpf"><rect x="1352.6" y="518.6" width="491.20000000000005" height="355.6"/></clipPath><g clip-path="url(#cpf)">
<polyline points="1374.1,533.8 1718.7,535.9 1722.6,539.8 1716.1,545.0 1700.5,554.1 1687.5,561.9 1677.1,569.7 1668.0,578.8 1661.5,587.4 1671.9,588.7 1721.3,589.7 1799.3,591.3 1801.9,593.1 1791.5,596.5 1790.2,602.2 1788.9,615.2 1794.1,628.2 1799.3,643.8 1807.1,669.8 1812.3,690.6 1814.9,711.4 1816.2,732.2 1809.7,740.0 1799.3,792.0 1794.1,807.6 1786.3,815.4 1764.2,834.9 1766.8,845.3 1716.1,846.6 1372.8,857.5" fill="none" stroke="#e07000" stroke-width="4.3" stroke-linecap="square" stroke-linejoin="round"/>
<polyline points="1374.1,533.8 1430.0,535.9 1471.6,539.8 1461.2,543.7 1456.0,546.3 1476.8,552.8 1534.0,560.6 1612.0,569.7 1674.5,574.9 1765.5,582.2 1752.5,587.1 1690.1,591.3 1632.8,600.9 1627.6,602.7 1690.1,604.8 1781.1,608.7 1752.5,613.1 1762.9,619.1 1788.9,625.6 1798.0,632.1 1791.5,639.9 1791.5,649.0 1799.3,664.6 1809.7,680.2 1814.9,711.4 1821.4,729.6 1820.1,740.0 1814.9,755.6 1804.5,779.0 1794.1,805.0 1786.3,815.4 1764.2,834.9 1766.8,845.3 1716.1,846.6 1372.8,857.5" fill="none" stroke="#14aa14" stroke-width="4.3" stroke-linecap="square" stroke-linejoin="round"/>
<line x1="1751.0" y1="534.6" x2="1751.0" y2="857" stroke="#e07000" stroke-width="2.15" stroke-dasharray="7.96 3.44"/>
<line x1="1699.7" y1="534.6" x2="1699.7" y2="857" stroke="#14aa14" stroke-width="2.15" stroke-dasharray="7.96 3.44"/>
<line x1="1688.8" y1="534.6" x2="1688.8" y2="857" stroke="#0a3ce6" stroke-width="2.15" stroke-dasharray="7.96 3.44"/>
<polyline points="1372.8,533.8 1398.8,537.2 1430.0,545.0 1482.0,554.1 1547.0,560.6 1612.0,569.7 1664.1,578.8 1716.1,587.1 1723.9,592.3 1703.1,597.0 1664.1,604.8 1645.8,608.7 1742.1,612.6 1794.1,613.9 1768.1,617.8 1762.9,625.6 1768.1,633.4 1773.3,651.6 1783.7,660.7 1805.8,680.2 1804.5,701.0 1807.1,714.0 1814.9,729.6 1804.5,766.0 1794.1,802.4 1786.3,815.4 1764.2,834.9 1766.8,845.3 1716.1,846.6 1372.8,857.5" fill="none" stroke="#0a3ce6" stroke-width="4.3" stroke-linecap="square" stroke-linejoin="round"/>
</g>
<rect x="123.50" y="51.80" width="491.20" height="355.80" fill="none" stroke="#222" stroke-width="1.72" stroke-linejoin="miter"/>
<line x1="141.00" y1="407.60" x2="141.00" y2="415.12" stroke="#000" stroke-width="1.72"/>
<text font-size="22.79" fill="#000"><tspan x="134.66" y="438.99">0</tspan></text>
<line x1="253.93" y1="407.60" x2="253.93" y2="415.12" stroke="#000" stroke-width="1.72"/>
<text font-size="22.79" fill="#000"><tspan x="240.66 254.42" y="438.99">50</tspan></text>
<line x1="366.85" y1="407.60" x2="366.85" y2="415.12" stroke="#000" stroke-width="1.72"/>
<text font-size="22.79" fill="#000"><tspan x="346.71 360.51 374.19" y="438.99">100</tspan></text>
<line x1="479.78" y1="407.60" x2="479.78" y2="415.12" stroke="#000" stroke-width="1.72"/>
<text font-size="22.79" fill="#000"><tspan x="459.64 473.35 487.11" y="438.99">150</tspan></text>
<line x1="592.70" y1="407.60" x2="592.70" y2="415.12" stroke="#000" stroke-width="1.72"/>
<text font-size="22.79" fill="#000"><tspan x="572.39 586.36 600.04" y="438.99">200</tspan></text>
<line x1="115.97" y1="407.60" x2="123.50" y2="407.60" stroke="#000" stroke-width="1.72"/>
<text font-size="22.79" fill="#000"><tspan x="94.47" y="415.43">0</tspan></text>
<line x1="115.97" y1="356.77" x2="123.50" y2="356.77" stroke="#000" stroke-width="1.72"/>
<text font-size="22.79" fill="#000"><tspan x="66.83 80.79 94.47" y="364.60">200</tspan></text>
<line x1="115.97" y1="305.94" x2="123.50" y2="305.94" stroke="#000" stroke-width="1.72"/>
<text font-size="22.79" fill="#000"><tspan x="67.11 80.79 94.47" y="313.77">400</tspan></text>
<line x1="115.97" y1="255.11" x2="123.50" y2="255.11" stroke="#000" stroke-width="1.72"/>
<text font-size="22.79" fill="#000"><tspan x="67.11 80.79 94.47" y="262.94">600</tspan></text>
<line x1="115.97" y1="204.29" x2="123.50" y2="204.29" stroke="#000" stroke-width="1.72"/>
<text font-size="22.79" fill="#000"><tspan x="67.11 80.79 94.47" y="212.11">800</tspan></text>
<line x1="115.97" y1="153.46" x2="123.50" y2="153.46" stroke="#000" stroke-width="1.72"/>
<text font-size="22.79" fill="#000"><tspan x="53.31 67.11 80.79 94.47" y="161.28">1000</tspan></text>
<line x1="115.97" y1="102.63" x2="123.50" y2="102.63" stroke="#000" stroke-width="1.72"/>
<text font-size="22.79" fill="#000"><tspan x="53.31 66.83 80.79 94.47" y="110.45">1200</tspan></text>
<line x1="115.97" y1="51.80" x2="123.50" y2="51.80" stroke="#000" stroke-width="1.72"/>
<text font-size="22.79" fill="#000"><tspan x="53.31 67.11 80.79 94.47" y="59.63">1400</tspan></text>
<text font-size="27.35" fill="#000"><tspan x="260.84 276.01 285.11 300.64 314.57 330.31 338.33 361.65 379.30 388.59 405.29 414.63 421.83 438.17 445.30 461.84" y="38.90">Fresh Water Flux</tspan></text>
<text font-size="22.79" fill="#000"><tspan x="305.21 318.57 325.11 345.34 358.25" y="468.40">Time </tspan><tspan x="365.65" y="466.97" font-size="20.57">[</tspan><tspan x="373.83 386.55 400.95 413.07" y="468.40">days</tspan><tspan x="426.33" y="466.97" font-size="20.57">]</tspan></text>
<text transform="translate(37.20,229.70) rotate(-90)" font-size="22.79" fill="#000"><tspan x="-160.66 -150.52 -136.62 -129.75 -115.55 -110.03 -102.31 -94.60 -86.97 -74.01 -62.37 -49.24 -41.85 -25.38 -10.65 -2.89 11.05 18.85 26.58 33.71 39.66 53.47 65.58" y="0.00">Total fresh water flux </tspan><tspan x="72.98" y="-1.43" font-size="20.57">[</tspan><tspan x="81.84 105.41 120.29 133.90 140.74" y="0.00">m^3/s</tspan><tspan x="154.00" y="-1.43" font-size="20.57">]</tspan></text>
<text font-size="32.86" fill="#000"><tspan x="102.37" y="42.90" font-size="29.64">(</tspan><tspan x="113.28" y="44.95">a</tspan><tspan x="134.94" y="42.90" font-size="29.64">)</tspan></text>
<rect x="744.40" y="51.80" width="491.00" height="355.80" fill="none" stroke="#222" stroke-width="1.72" stroke-linejoin="miter"/>
<line x1="794.30" y1="407.60" x2="794.30" y2="415.12" stroke="#000" stroke-width="1.72"/>
<text font-size="22.79" fill="#000"><tspan x="779.37" y="441.46" font-size="27.70">−</tspan><tspan x="796.85" y="438.99">1</tspan></text>
<line x1="910.30" y1="407.60" x2="910.30" y2="415.12" stroke="#000" stroke-width="1.72"/>
<text font-size="22.79" fill="#000"><tspan x="903.96" y="438.99">0</tspan></text>
<line x1="1026.30" y1="407.60" x2="1026.30" y2="415.12" stroke="#000" stroke-width="1.72"/>
<text font-size="22.79" fill="#000"><tspan x="1019.84" y="438.99">1</tspan></text>
<line x1="1142.30" y1="407.60" x2="1142.30" y2="415.12" stroke="#000" stroke-width="1.72"/>
<text font-size="22.79" fill="#000"><tspan x="1135.67" y="438.99">2</tspan></text>
<line x1="736.88" y1="67.00" x2="744.40" y2="67.00" stroke="#000" stroke-width="1.72"/>
<text font-size="22.79" fill="#000"><tspan x="715.37" y="74.83">0</tspan></text>
<line x1="736.88" y1="121.95" x2="744.40" y2="121.95" stroke="#000" stroke-width="1.72"/>
<text font-size="22.79" fill="#000"><tspan x="670.41" y="132.25" font-size="27.70">−</tspan><tspan x="687.89 701.69 715.37" y="129.78">100</tspan></text>
<line x1="736.88" y1="176.90" x2="744.40" y2="176.90" stroke="#000" stroke-width="1.72"/>
<text font-size="22.79" fill="#000"><tspan x="670.41" y="187.20" font-size="27.70">−</tspan><tspan x="687.73 701.69 715.37" y="184.73">200</tspan></text>
<line x1="736.88" y1="231.85" x2="744.40" y2="231.85" stroke="#000" stroke-width="1.72"/>
<text font-size="22.79" fill="#000"><tspan x="670.41" y="242.15" font-size="27.70">−</tspan><tspan x="688.04 701.69 715.37" y="239.68">300</tspan></text>
<line x1="736.88" y1="286.80" x2="744.40" y2="286.80" stroke="#000" stroke-width="1.72"/>
<text font-size="22.79" fill="#000"><tspan x="670.41" y="297.10" font-size="27.70">−</tspan><tspan x="688.01 701.69 715.37" y="294.63">400</tspan></text>
<line x1="736.88" y1="341.75" x2="744.40" y2="341.75" stroke="#000" stroke-width="1.72"/>
<text font-size="22.79" fill="#000"><tspan x="670.41" y="352.05" font-size="27.70">−</tspan><tspan x="687.93 701.69 715.37" y="349.58">500</tspan></text>
<line x1="736.88" y1="396.70" x2="744.40" y2="396.70" stroke="#000" stroke-width="1.72"/>
<text font-size="22.79" fill="#000"><tspan x="670.41" y="407.00" font-size="27.70">−</tspan><tspan x="688.01 701.69 715.37" y="404.53">600</tspan></text>
<text font-size="27.35" fill="#000"><tspan x="823.89 843.77 858.55 876.25 885.59 893.14 914.28 920.21 936.61 951.38 958.36 975.06 984.41 992.13 1004.33 1021.03 1045.61 1061.60 1078.30 1086.97 1104.62 1114.04 1131.08 1140.19" y="38.90">Near Glacier Temperature</tspan></text>
<text font-size="22.79" fill="#000"><tspan x="814.02 835.37 841.24 855.52 863.45 876.58 882.85 897.26 909.64 923.58 930.82 944.92 958.53 971.79 985.08 992.91 1000.67 1014.61 1035.14 1048.48 1062.43 1069.67 1084.40 1092.27 1106.50 1114.12 1127.03" y="468.40">Width averaged temperature </tspan><tspan x="1134.43" y="466.97" font-size="20.57">[</tspan><tspan x="1141.40" y="468.40">C</tspan><tspan x="1159.37" y="466.97" font-size="20.57">]</tspan></text>
<text transform="translate(655.00,229.70) rotate(-90)" font-size="22.79" fill="#000"><tspan x="-54.94 -38.15 -24.62 -10.60 -2.67 10.47" y="0.00">Depth </tspan><tspan x="17.86" y="-1.43" font-size="20.57">[</tspan><tspan x="26.73" y="0.00">m</tspan><tspan x="48.74" y="-1.43" font-size="20.57">]</tspan></text>
<text font-size="32.86" fill="#000"><tspan x="720.37" y="42.90" font-size="29.64">(</tspan><tspan x="732.99" y="44.95">b</tspan><tspan x="753.63" y="42.90" font-size="29.64">)</tspan></text>
<rect x="1352.20" y="51.80" width="491.50" height="355.80" fill="none" stroke="#222" stroke-width="1.72" stroke-linejoin="miter"/>
<line x1="1358.20" y1="407.60" x2="1358.20" y2="415.12" stroke="#000" stroke-width="1.72"/>
<text font-size="22.79" fill="#000"><tspan x="1319.33" y="441.46" font-size="27.70">−</tspan><tspan x="1336.93 1350.35 1357.44 1371.04 1384.80" y="438.99">0.050</tspan></text>
<line x1="1439.12" y1="407.60" x2="1439.12" y2="415.12" stroke="#000" stroke-width="1.72"/>
<text font-size="22.79" fill="#000"><tspan x="1400.25" y="441.46" font-size="27.70">−</tspan><tspan x="1417.85 1431.27 1438.36 1451.75 1465.63" y="438.99">0.025</tspan></text>
<line x1="1520.03" y1="407.60" x2="1520.03" y2="415.12" stroke="#000" stroke-width="1.72"/>
<text font-size="22.79" fill="#000"><tspan x="1489.76 1503.18 1510.27 1523.95 1537.63" y="438.99">0.000</tspan></text>
<line x1="1600.95" y1="407.60" x2="1600.95" y2="415.12" stroke="#000" stroke-width="1.72"/>
<text font-size="22.79" fill="#000"><tspan x="1570.67 1584.09 1591.19 1604.58 1618.46" y="438.99">0.025</tspan></text>
<line x1="1681.87" y1="407.60" x2="1681.87" y2="415.12" stroke="#000" stroke-width="1.72"/>
<text font-size="22.79" fill="#000"><tspan x="1651.59 1665.01 1672.10 1685.70 1699.46" y="438.99">0.050</tspan></text>
<line x1="1762.78" y1="407.60" x2="1762.78" y2="415.12" stroke="#000" stroke-width="1.72"/>
<text font-size="22.79" fill="#000"><tspan x="1732.51 1745.93 1753.02 1766.65 1780.29" y="438.99">0.075</tspan></text>
<line x1="1843.70" y1="407.60" x2="1843.70" y2="415.12" stroke="#000" stroke-width="1.72"/>
<text font-size="22.79" fill="#000"><tspan x="1813.42 1826.84 1833.82 1847.61 1861.29" y="438.99">0.100</tspan></text>
<line x1="1344.67" y1="67.00" x2="1352.20" y2="67.00" stroke="#000" stroke-width="1.72"/>
<text font-size="22.79" fill="#000"><tspan x="1323.17" y="74.83">0</tspan></text>
<line x1="1344.67" y1="121.95" x2="1352.20" y2="121.95" stroke="#000" stroke-width="1.72"/>
<text font-size="22.79" fill="#000"><tspan x="1278.21" y="132.25" font-size="27.70">−</tspan><tspan x="1295.69 1309.49 1323.17" y="129.78">100</tspan></text>
<line x1="1344.67" y1="176.90" x2="1352.20" y2="176.90" stroke="#000" stroke-width="1.72"/>
<text font-size="22.79" fill="#000"><tspan x="1278.21" y="187.20" font-size="27.70">−</tspan><tspan x="1295.53 1309.49 1323.17" y="184.73">200</tspan></text>
<line x1="1344.67" y1="231.85" x2="1352.20" y2="231.85" stroke="#000" stroke-width="1.72"/>
<text font-size="22.79" fill="#000"><tspan x="1278.21" y="242.15" font-size="27.70">−</tspan><tspan x="1295.84 1309.49 1323.17" y="239.68">300</tspan></text>
<line x1="1344.67" y1="286.80" x2="1352.20" y2="286.80" stroke="#000" stroke-width="1.72"/>
<text font-size="22.79" fill="#000"><tspan x="1278.21" y="297.10" font-size="27.70">−</tspan><tspan x="1295.81 1309.49 1323.17" y="294.63">400</tspan></text>
<line x1="1344.67" y1="341.75" x2="1352.20" y2="341.75" stroke="#000" stroke-width="1.72"/>
<text font-size="22.79" fill="#000"><tspan x="1278.21" y="352.05" font-size="27.70">−</tspan><tspan x="1295.73 1309.49 1323.17" y="349.58">500</tspan></text>
<line x1="1344.67" y1="396.70" x2="1352.20" y2="396.70" stroke="#000" stroke-width="1.72"/>
<text font-size="22.79" fill="#000"><tspan x="1278.21" y="407.00" font-size="27.70">−</tspan><tspan x="1295.81 1309.49 1323.17" y="404.53">600</tspan></text>
<text font-size="27.35" fill="#000"><tspan x="1504.61 1527.64 1534.67 1550.68 1558.88 1575.05 1582.13 1598.84 1608.11 1624.03 1631.22 1647.57 1654.47 1670.59" y="38.90">Mid-Fjord Flow</tspan></text>
<text font-size="22.79" fill="#000"><tspan x="1462.39 1477.81 1483.57 1497.00 1510.47 1523.75 1531.48 1538.46 1544.38 1558.32 1566.11 1579.40 1586.89 1599.27 1612.64 1618.40 1631.26 1643.60 1650.09 1658.19 1670.26" y="468.40">Along fjord velocity </tspan><tspan x="1677.65" y="466.97" font-size="20.57">[</tspan><tspan x="1686.52 1706.88 1713.72" y="468.40">m/s</tspan><tspan x="1726.98" y="466.97" font-size="20.57">]</tspan></text>
<text transform="translate(1263.00,229.70) rotate(-90)" font-size="22.79" fill="#000"><tspan x="-54.94 -38.15 -24.62 -10.60 -2.67 10.47" y="0.00">Depth </tspan><tspan x="17.86" y="-1.43" font-size="20.57">[</tspan><tspan x="26.73" y="0.00">m</tspan><tspan x="48.74" y="-1.43" font-size="20.57">]</tspan></text>
<text font-size="32.86" fill="#000"><tspan x="1330.37" y="42.90" font-size="29.64">(</tspan><tspan x="1342.03" y="44.95">c</tspan><tspan x="1360.99" y="42.90" font-size="29.64">)</tspan></text>
<rect x="123.60" y="518.60" width="490.80" height="355.60" fill="none" stroke="#222" stroke-width="1.72" stroke-linejoin="miter"/>
<line x1="238.20" y1="874.20" x2="238.20" y2="881.73" stroke="#000" stroke-width="1.72"/>
<text font-size="22.79" fill="#000"><tspan x="224.73 238.70" y="905.59">28</tspan></text>
<line x1="363.27" y1="874.20" x2="363.27" y2="881.73" stroke="#000" stroke-width="1.72"/>
<text font-size="22.79" fill="#000"><tspan x="349.80 363.70" y="905.59">29</tspan></text>
<line x1="488.33" y1="874.20" x2="488.33" y2="881.73" stroke="#000" stroke-width="1.72"/>
<text font-size="22.79" fill="#000"><tspan x="475.18 488.83" y="905.59">30</tspan></text>
<line x1="613.40" y1="874.20" x2="613.40" y2="881.73" stroke="#000" stroke-width="1.72"/>
<text font-size="22.79" fill="#000"><tspan x="600.25 613.78" y="905.59">31</tspan></text>
<line x1="116.07" y1="533.70" x2="123.60" y2="533.70" stroke="#000" stroke-width="1.72"/>
<text font-size="22.79" fill="#000"><tspan x="94.57" y="541.53">0</tspan></text>
<line x1="116.07" y1="588.67" x2="123.60" y2="588.67" stroke="#000" stroke-width="1.72"/>
<text font-size="22.79" fill="#000"><tspan x="49.61" y="598.96" font-size="27.70">−</tspan><tspan x="67.09 80.89 94.57" y="596.49">100</tspan></text>
<line x1="116.07" y1="643.63" x2="123.60" y2="643.63" stroke="#000" stroke-width="1.72"/>
<text font-size="22.79" fill="#000"><tspan x="49.61" y="653.93" font-size="27.70">−</tspan><tspan x="66.93 80.89 94.57" y="651.46">200</tspan></text>
<line x1="116.07" y1="698.60" x2="123.60" y2="698.60" stroke="#000" stroke-width="1.72"/>
<text font-size="22.79" fill="#000"><tspan x="49.61" y="708.90" font-size="27.70">−</tspan><tspan x="67.24 80.89 94.57" y="706.43">300</tspan></text>
<line x1="116.07" y1="753.57" x2="123.60" y2="753.57" stroke="#000" stroke-width="1.72"/>
<text font-size="22.79" fill="#000"><tspan x="49.61" y="763.86" font-size="27.70">−</tspan><tspan x="67.21 80.89 94.57" y="761.39">400</tspan></text>
<line x1="116.07" y1="808.53" x2="123.60" y2="808.53" stroke="#000" stroke-width="1.72"/>
<text font-size="22.79" fill="#000"><tspan x="49.61" y="818.83" font-size="27.70">−</tspan><tspan x="67.13 80.89 94.57" y="816.36">500</tspan></text>
<line x1="116.07" y1="863.50" x2="123.60" y2="863.50" stroke="#000" stroke-width="1.72"/>
<text font-size="22.79" fill="#000"><tspan x="49.61" y="873.80" font-size="27.70">−</tspan><tspan x="67.21 80.89 94.57" y="871.33">600</tspan></text>
<text font-size="27.35" fill="#000"><tspan x="236.90 256.78 271.56 289.25 298.60 306.15 327.28 333.22 349.62 364.39 371.37 388.07 397.41 404.81 421.27 438.27 445.44 452.66 468.91 476.70 486.39" y="505.70">Near Glacier Salinity</tspan></text>
<text font-size="22.79" fill="#000"><tspan x="208.47 229.82 235.69 249.97 257.90 271.03 277.30 291.71 304.09 318.03 325.27 339.37 352.98 366.24 379.53 386.42 397.00 411.20 417.18 423.21 436.78 443.28 451.38 463.44" y="935.00">Width averaged salinity </tspan><tspan x="470.84" y="933.57" font-size="20.57">[</tspan><tspan x="477.90 490.97 504.92" y="935.00">PSU</tspan><tspan x="523.12" y="933.57" font-size="20.57">]</tspan></text>
<text transform="translate(35.00,696.40) rotate(-90)" font-size="22.79" fill="#000"><tspan x="-54.94 -38.15 -24.62 -10.60 -2.67 10.47" y="0.00">Depth </tspan><tspan x="17.86" y="-1.43" font-size="20.57">[</tspan><tspan x="26.73" y="0.00">m</tspan><tspan x="48.74" y="-1.43" font-size="20.57">]</tspan></text>
<text font-size="32.86" fill="#000"><tspan x="102.37" y="509.55" font-size="29.64">(</tspan><tspan x="114.61" y="511.60">d</tspan><tspan x="135.63" y="509.55" font-size="29.64">)</tspan></text>
<rect x="744.30" y="518.60" width="491.10" height="355.60" fill="none" stroke="#222" stroke-width="1.72" stroke-linejoin="miter"/>
<line x1="761.80" y1="874.20" x2="761.80" y2="881.73" stroke="#000" stroke-width="1.72"/>
<text font-size="22.79" fill="#000"><tspan x="731.52 744.94 752.04 765.71 779.39" y="905.59">0.000</tspan></text>
<line x1="843.24" y1="874.20" x2="843.24" y2="881.73" stroke="#000" stroke-width="1.72"/>
<text font-size="22.79" fill="#000"><tspan x="812.96 826.38 833.48 846.87 860.75" y="905.59">0.025</tspan></text>
<line x1="924.68" y1="874.20" x2="924.68" y2="881.73" stroke="#000" stroke-width="1.72"/>
<text font-size="22.79" fill="#000"><tspan x="894.40 907.82 914.92 928.51 942.27" y="905.59">0.050</tspan></text>
<line x1="1006.12" y1="874.20" x2="1006.12" y2="881.73" stroke="#000" stroke-width="1.72"/>
<text font-size="22.79" fill="#000"><tspan x="975.84 989.26 996.36 1009.99 1023.63" y="905.59">0.075</tspan></text>
<line x1="1087.56" y1="874.20" x2="1087.56" y2="881.73" stroke="#000" stroke-width="1.72"/>
<text font-size="22.79" fill="#000"><tspan x="1057.28 1070.70 1077.68 1091.47 1105.15" y="905.59">0.100</tspan></text>
<line x1="1169.00" y1="874.20" x2="1169.00" y2="881.73" stroke="#000" stroke-width="1.72"/>
<text font-size="22.79" fill="#000"><tspan x="1138.72 1152.14 1159.12 1172.63 1186.51" y="905.59">0.125</tspan></text>
<line x1="736.77" y1="526.90" x2="744.30" y2="526.90" stroke="#000" stroke-width="1.72"/>
<text font-size="22.79" fill="#000"><tspan x="715.27" y="534.73">0</tspan></text>
<line x1="736.77" y1="583.37" x2="744.30" y2="583.37" stroke="#000" stroke-width="1.72"/>
<text font-size="22.79" fill="#000"><tspan x="670.31" y="593.66" font-size="27.70">−</tspan><tspan x="687.79 701.59 715.27" y="591.19">100</tspan></text>
<line x1="736.77" y1="639.83" x2="744.30" y2="639.83" stroke="#000" stroke-width="1.72"/>
<text font-size="22.79" fill="#000"><tspan x="670.31" y="650.13" font-size="27.70">−</tspan><tspan x="687.63 701.59 715.27" y="647.66">200</tspan></text>
<line x1="736.77" y1="696.30" x2="744.30" y2="696.30" stroke="#000" stroke-width="1.72"/>
<text font-size="22.79" fill="#000"><tspan x="670.31" y="706.60" font-size="27.70">−</tspan><tspan x="687.94 701.59 715.27" y="704.13">300</tspan></text>
<line x1="736.77" y1="752.77" x2="744.30" y2="752.77" stroke="#000" stroke-width="1.72"/>
<text font-size="22.79" fill="#000"><tspan x="670.31" y="763.06" font-size="27.70">−</tspan><tspan x="687.91 701.59 715.27" y="760.59">400</tspan></text>
<line x1="736.77" y1="809.23" x2="744.30" y2="809.23" stroke="#000" stroke-width="1.72"/>
<text font-size="22.79" fill="#000"><tspan x="670.31" y="819.53" font-size="27.70">−</tspan><tspan x="687.83 701.59 715.27" y="817.06">500</tspan></text>
<line x1="736.77" y1="865.70" x2="744.30" y2="865.70" stroke="#000" stroke-width="1.72"/>
<text font-size="22.79" fill="#000"><tspan x="670.31" y="876.00" font-size="27.70">−</tspan><tspan x="687.91 701.59 715.27" y="873.53">600</tspan></text>
<text font-size="27.35" fill="#000"><tspan x="819.73 839.61 854.39 872.09 881.43 888.98 910.12 916.05 932.45 947.22 954.20 970.90 980.25 987.96 1008.65 1023.24 1038.02 1055.11 1070.80 1078.19 1096.07 1112.06 1127.90 1143.79" y="505.70">Near Glacier Ocean Speed</tspan></text>
<text font-size="22.79" fill="#000"><tspan x="836.86 858.22 864.08 878.36 886.29 899.43 905.70 920.10 932.48 946.42 953.66 967.76 981.37 994.64 1007.92 1014.81 1026.58 1039.93 1053.15 1066.42 1079.71" y="935.00">Width averaged speed </tspan><tspan x="1087.11" y="933.57" font-size="20.57">[</tspan><tspan x="1095.97 1116.33 1123.17" y="935.00">m/s</tspan><tspan x="1136.43" y="933.57" font-size="20.57">]</tspan></text>
<text transform="translate(655.00,696.40) rotate(-90)" font-size="22.79" fill="#000"><tspan x="-54.94 -38.15 -24.62 -10.60 -2.67 10.47" y="0.00">Depth </tspan><tspan x="17.86" y="-1.43" font-size="20.57">[</tspan><tspan x="26.73" y="0.00">m</tspan><tspan x="48.74" y="-1.43" font-size="20.57">]</tspan></text>
<text font-size="32.86" fill="#000"><tspan x="720.37" y="509.55" font-size="29.64">(</tspan><tspan x="732.56" y="511.60">e</tspan><tspan x="753.02" y="509.55" font-size="29.64">)</tspan></text>
<rect x="1352.60" y="518.60" width="491.20" height="355.60" fill="none" stroke="#222" stroke-width="1.72" stroke-linejoin="miter"/>
<line x1="1375.00" y1="874.20" x2="1375.00" y2="881.73" stroke="#000" stroke-width="1.72"/>
<text font-size="22.79" fill="#000"><tspan x="1351.56 1364.98 1372.07 1385.75" y="905.59">0.00</tspan></text>
<line x1="1482.88" y1="874.20" x2="1482.88" y2="881.73" stroke="#000" stroke-width="1.72"/>
<text font-size="22.79" fill="#000"><tspan x="1459.44 1472.86 1479.95 1493.55" y="905.59">0.05</tspan></text>
<line x1="1590.75" y1="874.20" x2="1590.75" y2="881.73" stroke="#000" stroke-width="1.72"/>
<text font-size="22.79" fill="#000"><tspan x="1567.31 1580.73 1587.71 1601.50" y="905.59">0.10</tspan></text>
<line x1="1698.62" y1="874.20" x2="1698.62" y2="881.73" stroke="#000" stroke-width="1.72"/>
<text font-size="22.79" fill="#000"><tspan x="1675.19 1688.61 1695.58 1709.30" y="905.59">0.15</tspan></text>
<line x1="1806.50" y1="874.20" x2="1806.50" y2="881.73" stroke="#000" stroke-width="1.72"/>
<text font-size="22.79" fill="#000"><tspan x="1783.06 1796.48 1803.29 1817.25" y="905.59">0.20</tspan></text>
<line x1="1345.07" y1="533.70" x2="1352.60" y2="533.70" stroke="#000" stroke-width="1.72"/>
<text font-size="22.79" fill="#000"><tspan x="1323.57" y="541.53">0</tspan></text>
<line x1="1345.07" y1="588.67" x2="1352.60" y2="588.67" stroke="#000" stroke-width="1.72"/>
<text font-size="22.79" fill="#000"><tspan x="1278.61" y="598.96" font-size="27.70">−</tspan><tspan x="1296.09 1309.89 1323.57" y="596.49">100</tspan></text>
<line x1="1345.07" y1="643.63" x2="1352.60" y2="643.63" stroke="#000" stroke-width="1.72"/>
<text font-size="22.79" fill="#000"><tspan x="1278.61" y="653.93" font-size="27.70">−</tspan><tspan x="1295.93 1309.89 1323.57" y="651.46">200</tspan></text>
<line x1="1345.07" y1="698.60" x2="1352.60" y2="698.60" stroke="#000" stroke-width="1.72"/>
<text font-size="22.79" fill="#000"><tspan x="1278.61" y="708.90" font-size="27.70">−</tspan><tspan x="1296.24 1309.89 1323.57" y="706.43">300</tspan></text>
<line x1="1345.07" y1="753.57" x2="1352.60" y2="753.57" stroke="#000" stroke-width="1.72"/>
<text font-size="22.79" fill="#000"><tspan x="1278.61" y="763.86" font-size="27.70">−</tspan><tspan x="1296.21 1309.89 1323.57" y="761.39">400</tspan></text>
<line x1="1345.07" y1="808.53" x2="1352.60" y2="808.53" stroke="#000" stroke-width="1.72"/>
<text font-size="22.79" fill="#000"><tspan x="1278.61" y="818.83" font-size="27.70">−</tspan><tspan x="1296.13 1309.89 1323.57" y="816.36">500</tspan></text>
<line x1="1345.07" y1="863.50" x2="1352.60" y2="863.50" stroke="#000" stroke-width="1.72"/>
<text font-size="22.79" fill="#000"><tspan x="1278.61" y="873.80" font-size="27.70">−</tspan><tspan x="1296.21 1309.89 1323.57" y="871.33">600</tspan></text>
<text font-size="27.35" fill="#000"><tspan x="1483.86 1505.00 1510.93 1527.34 1542.11 1549.08 1565.78 1575.13 1582.32 1597.49 1606.51 1622.59 1639.48 1648.38 1656.31 1679.17 1695.17 1702.97" y="505.70">Glacier Front Melt</tspan></text>
<text font-size="22.79" fill="#000"><tspan x="1374.23 1395.58 1401.45 1415.73 1423.66 1436.79 1443.06 1457.47 1469.85 1483.79 1491.03 1505.13 1518.74 1532.00 1545.29 1552.49 1566.23 1571.18 1584.88 1597.21 1603.04 1616.98 1624.78 1632.65 1652.88 1666.24 1672.75 1680.19 1688.06 1695.30 1710.03 1717.79 1730.70" y="935.00">Width averaged glacier melt rate </tspan><tspan x="1738.10" y="933.57" font-size="20.57">[</tspan><tspan x="1746.96 1767.32 1774.47 1787.19 1801.59" y="935.00">m/day</tspan><tspan x="1815.76" y="933.57" font-size="20.57">]</tspan></text>
<text transform="translate(1263.00,696.40) rotate(-90)" font-size="22.79" fill="#000"><tspan x="-54.94 -38.15 -24.62 -10.60 -2.67 10.47" y="0.00">Depth </tspan><tspan x="17.86" y="-1.43" font-size="20.57">[</tspan><tspan x="26.73" y="0.00">m</tspan><tspan x="48.74" y="-1.43" font-size="20.57">]</tspan></text>
<text font-size="32.86" fill="#000"><tspan x="1330.37" y="509.55" font-size="29.64">(</tspan><tspan x="1343.38" y="511.60">f</tspan><tspan x="1354.86" y="509.55" font-size="29.64">)</tspan></text>
<rect x="754.50" y="294.30" width="247.90" height="101.70" rx="4.3" ry="4.3" fill="#fff" fill-opacity="0.8" stroke="#cccccc" stroke-opacity="0.8" stroke-width="1.72"/>
<line x1="763.05" y1="311.20" x2="806.05" y2="311.20" stroke="#e07000" stroke-width="4.3" stroke-linecap="square"/>
<text font-size="22.79" fill="#000"><tspan x="823.17 832.90 841.79 853.26 869.79 882.70 888.99 901.18 914.70 928.05 941.99 949.78 963.13" y="318.50">FJ_NoIcebergs</tspan></text>
<line x1="763.05" y1="343.55" x2="806.05" y2="343.55" stroke="#14aa14" stroke-width="4.3" stroke-linecap="square"/>
<text font-size="22.79" fill="#000"><tspan x="823.17 832.90 841.79 853.26 869.79 882.43 897.90 903.66 916.53 929.08 940.92 958.43 965.67 979.77" y="350.85">FJ_NoBlockDrag</tspan></text>
<line x1="763.05" y1="375.90" x2="806.05" y2="375.90" stroke="#0a3ce6" stroke-width="4.3" stroke-linecap="square"/>
<text font-size="22.79" fill="#000"><tspan x="823.17 832.90" y="383.20">FJ</tspan></text>
<rect x="1609.30" y="327.50" width="222.90" height="67.90" rx="4.3" ry="4.3" fill="#fff" fill-opacity="0.8" stroke="#cccccc" stroke-opacity="0.8" stroke-width="1.72"/>
<line x1="1618.1" y1="344.00" x2="1661.1" y2="344.00" stroke="#bdbdbd" stroke-width="3.2" stroke-dasharray="3.20 5.28"/>
<text font-size="22.79" fill="#000"><tspan x="1678.14 1692.69 1706.03 1720.22 1728.15 1741.60 1755.55 1763.50 1776.60 1783.93 1796.50 1810.69 1817.10" y="351.60">Southern half</tspan></text>
<line x1="1618.1" y1="375.70" x2="1661.1" y2="375.70" stroke="#bdbdbd" stroke-width="3.2" stroke-dasharray="11.84 5.12"/>
<text font-size="22.79" fill="#000"><tspan x="1678.61 1695.13 1709.07 1717.87 1725.80 1739.25 1753.19 1761.15 1774.25 1781.57 1794.15 1808.34 1814.75" y="383.30">Northern half</tspan></text>
<rect x="980.10" y="762.40" width="244.10" height="100.10" rx="4.3" ry="4.3" fill="#fff" fill-opacity="0.8" stroke="#cccccc" stroke-opacity="0.8" stroke-width="1.72"/>
<line x1="988.7" y1="779.10" x2="1031.7" y2="779.10" stroke="#ff6666" stroke-width="3.2" stroke-dasharray="20.48 5.12 3.20 5.12"/>
<text font-size="22.79" fill="#000"><tspan x="1049.99 1069.22 1075.25 1088.35 1094.97 1114.05 1127.42 1133.93 1141.37 1147.54 1162.47 1175.81 1189.04 1202.31" y="786.80">Min Melt Speed</tspan></text>
<line x1="988.7" y1="810.75" x2="1031.7" y2="810.75" stroke="#bdbdbd" stroke-width="3.2" stroke-dasharray="11.84 5.12"/>
<text font-size="22.79" fill="#000"><tspan x="1050.63 1064.38 1078.55 1086.48 1099.61 1105.68 1118.98 1132.93 1140.19 1152.37 1165.80 1179.90 1187.80 1193.76 1199.60" y="818.45">90th Percentile</tspan></text>
<line x1="988.7" y1="842.40" x2="1031.7" y2="842.40" stroke="#bdbdbd" stroke-width="3.2" stroke-linecap="square"/>
<text font-size="22.79" fill="#000"><tspan x="1049.95 1064.32 1076.70 1090.64 1097.88 1111.98 1125.59" y="850.10">Average</tspan></text>
<rect x="1363.10" y="665.40" width="259.40" height="61.40" rx="4.3" ry="4.3" fill="#fff" fill-opacity="0.8" stroke="#cccccc" stroke-opacity="0.8" stroke-width="1.72"/>
<line x1="1371.2" y1="696.9" x2="1414.2" y2="696.9" stroke="#bdbdbd" stroke-width="3.2" stroke-dasharray="11.84 5.12"/>
<text font-size="22.79" fill="#000"><tspan x="1431.48 1448.28 1461.80 1475.82 1483.75 1496.89 1503.47 1517.84 1530.22 1544.16 1551.40 1565.50 1579.11 1592.38" y="689.30">Depth Averaged</tspan></text>
<text font-size="22.79" fill="#000"><tspan x="1430.98 1445.27 1460.01 1467.76" y="713.80">Rate</tspan></text>
</svg></body></html>
